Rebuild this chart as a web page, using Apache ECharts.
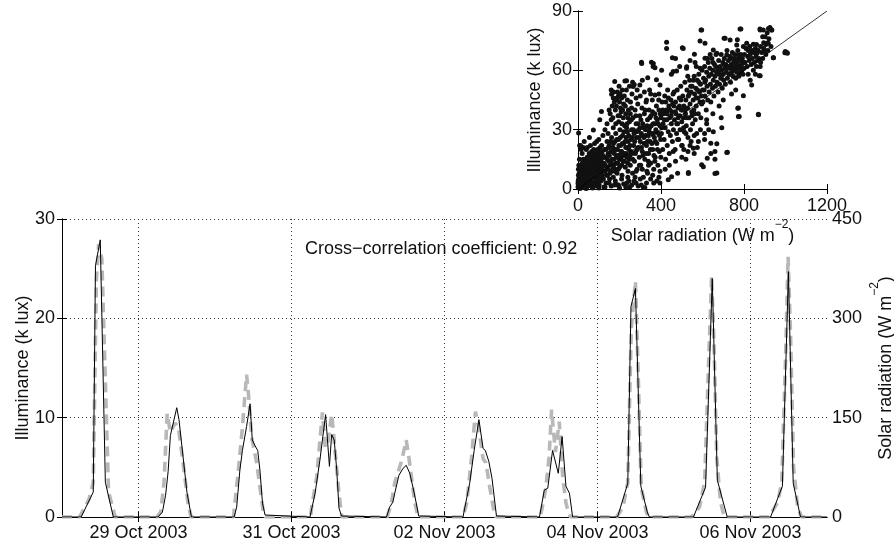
<!DOCTYPE html>
<html><head><meta charset="utf-8">
<script src="https://cdn.jsdelivr.net/npm/echarts@6/dist/echarts.min.js"></script>
<style>html,body{margin:0;padding:0;background:#fff}#c{width:894px;height:548px}</style>
</head><body><div id="c"></div>
<script>
// ---- data ----
// time in hours since 28 Oct 2003 00:00
const dateTickHours = [24, 72, 120, 168, 216];
const dateTickLabels = ['29 Oct 2003', '31 Oct 2003', '02 Nov 2003', '04 Nov 2003', '06 Nov 2003'];
const illumTicks = [0, 10, 20, 30];
const radTicks = [0, 150, 300, 450];
const insetRadTicks = [0, 400, 800, 1200];
const insetIllumTicks = [0, 30, 60, 90];

// Illuminance (k lux), black line
const illumTime = [0,
  6.0, 9.8, 10.5, 12.0, 13.6, 16.1,
  30.1, 31.5, 32.5, 33.3, 34.0, 36.0, 36.7, 39.2, 40.6,
  54.0, 54.8, 55.8, 56.6, 57.9, 59.0, 59.7, 60.6, 61.4, 62.1, 62.9, 63.7, 64.2,
  77.8, 79.4, 80.9, 82.7, 83.9, 84.6, 85.4, 86.2, 86.9, 87.7, 88.2,
  101.8, 102.8, 103.8, 104.4, 105.7, 107.0, 108.0, 109.1, 110.1, 111.2, 111.9, 112.3,
  125.8, 127.9, 129.3, 130.8, 132.1, 132.8, 133.9, 134.9, 136.3, 136.6,
  149.8, 151.3, 152.4, 153.9, 155.7, 156.9, 158.1, 159.2, 160.2,
  174.3, 177.5, 178.5, 179.9, 181.6, 183.7, 184.3,
  198.1, 201.9, 204.0, 205.6, 208.7,
  222.3, 226.0, 227.9, 229.4, 231.7,
  240];
const illumValue = [0,
  0, 2.5, 25.3, 27.9, 3.5, 0,
  0, 0.5, 2.2, 4.6, 8.2, 11.0, 9.8, 2.5, 0,
  0, 1.0, 4.7, 6.7, 9.1, 11.4, 7.75, 7.15, 6.7, 4.7, 1.4, 0.2, 0,
  0, 2.4, 5.7, 10.3, 5.1, 8.3, 7.75, 4.7, 0.9, 0.1, 0,
  0, 1.0, 1.5, 2.4, 4.2, 4.9, 5.2, 4.4, 3.0, 1.3, 0.1, 0,
  0, 3.4, 6.7, 9.8, 6.9, 6.7, 5.6, 3.9, 0.1, 0,
  0, 2.7, 2.9, 6.7, 4.4, 8.1, 3.1, 2.4, 0,
  0, 3.4, 21.2, 23.0, 3.1, 0.4, 0,
  0, 3.0, 24.0, 3.7, 0,
  0, 3.1, 24.7, 3.4, 0,
  0];

// Solar radiation (W m-2), grey dashed line
const radTime = [0,
  5.5, 8.5, 9.8, 10.8, 11.5, 12.5, 14.6, 16.7,
  29.8, 31.0, 32.0, 33.0, 34.0, 35.5, 36.5, 38.0, 39.5, 40.5,
  53.8, 54.3, 55.3, 56.6, 57.9, 58.5, 59.5, 61.0, 62.1, 63.2, 63.8,
  78.0, 78.3, 79.9, 81.7, 82.6, 83.5, 84.6, 85.3, 86.9, 87.8,
  102.0, 103.3, 104.4, 106.5, 108.0, 109.0, 110.6, 111.7,
  125.8, 127.0, 128.5, 129.7, 130.5, 132.1, 133.0, 134.2, 135.5, 136.2,
  150.0, 151.0, 151.8, 152.8, 153.6, 154.8, 156.0, 157.1, 158.1, 159.0, 159.6,
  174.0, 176.0, 177.5, 178.6, 179.9, 180.8, 181.7, 183.3, 184.0,
  197.5, 200.0, 201.6, 202.8, 203.8, 204.6, 205.4, 206.6, 207.8,
  221.8, 224.5, 225.8, 227.0, 227.8, 228.6, 229.5, 230.8, 232.0,
  240];
const radValue = [0,
  0, 27, 52, 360, 412, 390, 38, 0,
  0, 8, 52, 156, 128, 142, 135, 82, 22, 0,
  0, 24, 69, 135, 215, 186, 120, 84, 45, 6, 0,
  0, 14, 60, 158, 105, 115, 155, 120, 35, 0,
  0, 20, 52, 84, 116, 84, 24, 0,
  0, 22, 90, 159, 142, 88, 82, 45, 9, 0,
  0, 22, 45, 90, 162, 98, 144, 60, 21, 5, 0,
  0, 15, 52, 285, 356, 210, 45, 8, 0,
  0, 15, 52, 225, 364, 255, 90, 22, 0,
  0, 22, 52, 240, 393, 270, 75, 15, 0,
  0];

// inset scatter: [solar radiation (W m-2), illuminance (k lux)]
const scatterPoints = [
[2,0.5],[5,1],[8,2],[10,0.3],[12,3],[15,1.5],[18,4],[20,0.8],[22,2.5],[25,6],[28,1],[30,3.5],[33,5],[35,0.5],[38,8],[40,2],[42,4.5],[45,7],[48,1.5],[50,3],[52,10],[55,5.5],[58,2],[60,8],[62,4],[65,12],[68,1],[70,6],[72,9],[75,3],[78,11],[80,7],[82,1.5],[85,5],[88,13],[90,8.5],[92,3],[95,10],[98,6],[100,14],[102,2],[105,8],[108,11.5],[110,4],[112,15],[115,7],[118,9.5],[120,12],
[3,5],[6,8],[4,12],[7,15],[2,10],[10,7],[14,11],[16,9],[20,13],[24,10],[26,15],[30,12],[32,9],[36,14],[40,11],[44,16],[46,13],[50,15],[54,18],[56,12],[60,16],[64,14],[66,19],[70,17],[74,15],[76,20],[80,13],[84,18],[86,16],[90,14],[94,20],[96,17],[100,19],[104,16],[106,21],[110,18],[114,22],[116,19],[120,17],
[3,28.3],[8,22],[12,22],[25,21],[45,21],[60,22],[74,29.8],[30,24],[55,26],[20,18],[15,20],[40,20],[0,1],[1,2.5],[1,4],[2,7],[0.5,3],
[40,0.3],[70,0.5],[100,0.5],[130,1],[160,1.5],[190,2],[220,2.5],[259,2.0],[315,0.7],[322,0.8],[250,1],[280,3],[200,0.5],
[5,3],[9,5],[13,7],[17,2],[21,5],[27,8],[31,1],[35,6],[37,11],[43,9],[47,3],[53,7],[57,10],[63,6],[67,9],[71,12],[73,3],[77,7],[83,10],[87,4],[91,11],[93,6],[97,13],[99,9],[103,5],[107,14],[109,7],[113,11],[117,13],[119,5],
[122,5],[125,13],[128,20],[130,9],[132,16],[135,3],[138,11],[140,24],[142,7],[145,18],[148,14],[150,22],[152,5],[155,12],[158,19],[160,9],[162,26],[165,15],[168,21],[170,6],[172,12],[175,18],[178,24],[180,10],[182,28],[185,16],[188,8],[190,20],[192,13],[195,25],[198,17],[200,11],[202,30],[205,22],[208,15],[210,19],[212,7],[215,27],[218,14],[220,23],[222,18],[225,32],[228,11],[230,21],[232,26],[235,16],[238,29],[240,13],[242,24],[245,20],[248,34],[250,17],
[124,9],[127,16],[131,12],[134,20],[137,7],[141,15],[144,10],[147,21],[151,17],[154,8],[157,24],[161,13],[164,19],[167,10],[171,23],[174,15],[177,9],[181,20],[184,13],[187,25],[191,17],[194,10],[197,22],[201,15],[204,26],[207,19],[211,12],[214,23],[217,17],[221,29],[224,14],[227,24],[231,18],[234,31],[237,21],[241,9],[244,27],[247,15],[251,22],[254,19],[257,35],[261,26],[264,15],[267,30],[273,24],[276,18],[279,37],[283,29],[286,20],[289,33],[293,26],[296,12],[299,31],[303,35],[306,21],[309,27],[313,17],[316,31],[319,23],[323,40],[326,27],[329,18],[333,32],[336,24],[339,14],[343,29],[346,36],[349,20],[353,32],[356,23],[359,39],[363,28],[366,17],[369,33],[373,24],[376,36],[379,29],[383,20],[386,33],[389,45],[393,27],[396,38],[399,16],
[105,35],[113,39.2],[162,47.9],[170,46],[175,44],[185,42],[185,45.1],[190,49],[195,47],[200,44],[205,41],[210,46],[215,40],[220,43],[226,54.6],[230,38],[240,36],[160,50.1],[177,54.3],[150,40],[140,33],[130,30],[120,27],[100,25],[90,24],[80,23],[160,35],[200,37],[170,31],[145,28],
[155,38],[165,42],[172,49],[180,40],[188,46],[193,37],[198,52],[203,48],[208,39],[213,50],[218,36],[223,47],[228,42],[233,50],[238,45],[243,40],[248,52],[253,44],[258,41],[263,54],[168,36],[182,33],[196,34],[212,33],[236,33],[252,38],
[150,3],[180,4],[210,5],[240,6],[235,3],[195,2],[125,1],[175,2],[230,1],[290,1.5],[245,4],[275,6],[305,2],[335,8],[365,3],[310,10],[340,12],[370,14],[395,3],
[252,12],[255,25],[258,30],[260,18],[263,8],[265,36],[268,22],[270,28],[272,14],[275,40],[278,19],[280,33],[282,26],[285,10],[288,43],[290,21],[292,30],[295,16],[298,37],[300,24],[302,12],[305,28],[308,41],[310,19],[312,33],[315,6],[318,26],[320,38],[322,15],[325,30],[328,44],[330,22],[332,9],[335,35],[338,27],[340,18],[342,40],[345,31],[348,24],[350,13],[352,37],[355,28],[358,45],[360,20],[362,33],[365,10],[368,26],[370,38],[372,16],[375,30],[378,42],[380,23],[382,35],[385,12],[388,28],[390,40],[392,19],[395,32],[398,25],[400,36],
[266,51.8],[271,52.9],[234,54.7],[298,52.6],[306,64.1],[307,63.5],[336,56.3],[354,64.1],[362,61.9],[363,63.5],[371,61.3],[371,47.5],[378,55.2],[395,52.6],[403,60.0],[260,48],[280,46],[300,47],[320,49],[345,50],[310,55],[330,45],[350,48],[390,48],[285,50],
[270,4],[300,5],[330,3],[360,7],[390,6],[280,9],[350,5],[380,4],[395,9],
[402,28],[405,44],[408,20],[410,33],[412,38],[415,25],[418,47],[420,31],[422,15],[425,40],[428,35],[430,22],[432,50],[435,29],[438,42],[440,18],[442,36],[445,27],[448,45],[450,33],[452,39],[455,24],[458,48],[460,30],[462,42],[465,35],[468,20],[470,44],[472,38],[475,28],[478,50],[480,33],[482,41],[485,25],[488,46],[490,37],[492,30],[495,52],[498,40],[500,34],[502,22],[505,47],[508,36],[510,42],[512,29],[515,54],[518,38],[520,45],[522,32],[525,50],[528,41],[530,26],[532,47],[535,36],[538,55],[540,43],[542,30],[545,49],[548,39],[550,52],[552,33],[555,45],[558,40],[560,57],[562,48],[565,35],[568,51],[570,42],[572,28],[575,55],[578,46],[580,38],[582,58],[585,49],[588,44],[590,53],[592,36],[595,47],[598,60],[600,50],
[403,31],[409,40],[416,35],[423,44],[429,38],[436,46],[443,40],[449,37],[456,43],[463,49],[469,39],[476,33],[483,36],[489,42],[496,45],[503,40],[509,31],[516,40],[523,36],[529,57],[536,48],[543,52],[549,37],[556,55],[563,38],[569,46],[576,50],[583,54],[589,61],[596,43],
[480,25],[500,22],[520,28],[530,19],[545,24],[560,27],[575,21],[590,30],[610,25],[620,33],
[427,74.2],[435,4.7],[427,71.1],[451,6.2],[455,66.4],[459,59.4],[459,18.9],[470,66],[475,59.7],[503,71.4],[507,71.1],[523,61.1],[524,61.8],[532,8.4],[532,7.9],[556,20.6],[561,68.1],[564,63.9],[588,74.8],[593,80.4],[596,80.4],[596,12.3],[420,10],[440,12],[470,14],[500,16],[520,15],[480,8],[510,20],[540,22],[560,18],[580,24],[450,58],[490,62],[540,65],[570,62],
[602,44],[605,56],[608,50],[610,62],[612,47],[615,55],[618,40],[620,59],[622,52],[625,45],[628,64],[630,57],[632,49],[635,61],[638,53],[640,44],[642,58],[645,66],[648,51],[650,60],[652,55],[655,47],[658,63],[660,57],[662,52],[665,68],[668,59],[670,54],[672,61],[675,49],[678,65],[680,58],[682,53],[685,62],[688,56],[690,68],[692,60],[695,51],[698,64],[700,58],[702,55],[705,66],[708,61],[710,53],[712,63],[715,59],[718,70],[720,56],[722,62],[725,65],[728,58],[730,61],[732,67],[735,54],[738,63],[740,59],[742,66],[745,61],[748,57],[750,64],[752,60],[755,68],[758,62],[760,56],[762,65],[765,59],[768,63],[770,70],[772,61],[775,57],[778,66],[780,62],[782,59],[785,68],[788,63],[790,60],[792,66],[795,58],[798,64],[800,61],
[611,54],[624,66],[637,68],[651,64],[664,62],[677,59],[691,57],[704,63],[717,61],[731,58],[744,69],[757,66],[771,65],[784,65],[797,72],
[612,66.1],[612,73.7],[623,15.5],[604,11.3],[640,23.1],[640,18.0],[652,70.3],[652,29.0],[660,15.1],[660,18.9],[660,7.9],[669,68.6],[669,22.9],[669,8.1],[693,31.0],[704,76.2],[709,76.2],[717,67.8],[717,18.5],[720,18.6],[733,75.4],[765,72.8],[768,75.5],[770,40.8],[773,67.8],[773,40.9],[773,36.7],[777,36.6],[781,80.9],[785,80.9],[797,47.2],[620,35],[650,38],[680,42],[700,45],[740,48],[760,50],[630,30],[610,28],[690,36],
[802,68],[805,64],[810,71],[813,73.7],[815,62],[818,67],[820,70],[825,65],[828,72],[830,68],[835,63],[838,70],[840,66],[845,73.2],[848,69],[850,64],[855,71],[858,67],[860,73],[862,68.6],[865,65],[868,70],[870,37.5],[872,66],[874,57.3],[877,80.9],[878,61.9],[878,57.2],[878,80.4],[880,72],[885,69],[890,77.0],[893,80.4],[895,74],[900,70],[902,77.0],[905,73],[910,73.7],[912,79],[917,73.7],[918,81.2],[920,76],[925,81.6],[930,72],[933,80.4],[934,80.4],[941,66.4],[942,66.4],[999,69.5],[997,68.9],[1007,69.0],[1009,68.6],[837,52.6],[869,37.8],[845,60],[860,62],[855,58],[880,64],[890,66],[895,71],[905,68],[915,70],[820,58],[830,55]
];
const fitLineRad = [0, 1200];
const fitLineIllum = [0, 90];
const correlationText = 'Cross\u2212correlation coefficient: 0.92';

// ---- chart ----
const FONT = '"Liberation Sans", Arial, Helvetica, sans-serif';
const TXT = '#111';
const chart = echarts.init(document.getElementById('c'), null, {renderer: 'canvas'});
const pair = (xs, ys) => xs.map((x, i) => [x, ys[i]]);
const labelFor = v => { const i = dateTickHours.indexOf(v); return i >= 0 ? dateTickLabels[i] : ''; };
const plain = v => String(v);
const supRich = {
  a: {fontSize: 18, fontFamily: FONT, color: TXT, lineHeight: 26, verticalAlign: 'bottom'},
  s: {fontSize: 12, fontFamily: FONT, color: TXT, verticalAlign: 'top', lineHeight: 12}
};
const radName = '{a|Solar radiation (W m}{s|\u22122}{a|)}';
const lbl = (extra) => Object.assign({color: TXT, fontSize: 18, fontFamily: FONT}, extra);
const axLine = {show: true, lineStyle: {color: '#000', width: 1}};
const tickIn = (extra) => Object.assign({show: true, inside: true, length: 5, lineStyle: {color: '#000', width: 1}}, extra);
const dotted = {show: true, lineStyle: {color: '#333', width: 1, type: [1, 3]}};

chart.setOption({
  animation: false,
  backgroundColor: '#fff',
  grid: [
    {left: 62, top: 219, right: 67, bottom: 31, containLabel: false, outerBoundsMode: 'none'},
    {left: 578, top: 11, width: 249, height: 178, containLabel: false, outerBoundsMode: 'none'}
  ],
  xAxis: [
    {type: 'value', gridIndex: 0, min: 0, max: 240, position: 'bottom',
     axisLine: axLine, axisTick: tickIn({customValues: dateTickHours}),
     axisLabel: lbl({customValues: dateTickHours, formatter: labelFor, margin: 7}),
     splitLine: dotted},
    {type: 'value', gridIndex: 0, min: 0, max: 240, position: 'top',
     axisLine: axLine, axisTick: tickIn({customValues: dateTickHours}),
     axisLabel: {show: false}, splitLine: {show: false}},
    {type: 'value', gridIndex: 1, min: insetRadTicks[0], max: insetRadTicks[3], interval: 400, position: 'bottom',
     axisLine: axLine, axisTick: tickIn({}),
     axisLabel: lbl({margin: 8, showMinLabel: true, showMaxLabel: true, formatter: plain}),
     splitLine: {show: false},
     name: radName, nameLocation: 'middle', nameGap: 30, nameMoveOverlap: false, nameTextStyle: {rich: supRich}},
    {type: 'value', gridIndex: 1, min: insetRadTicks[0], max: insetRadTicks[3], interval: 400, position: 'top',
     axisLine: axLine, axisTick: tickIn({}), axisLabel: {show: false}, splitLine: {show: false}}
  ],
  yAxis: [
    {type: 'value', gridIndex: 0, min: illumTicks[0], max: illumTicks[3], interval: 10, position: 'left',
     axisLine: axLine, axisTick: tickIn({}),
     axisLabel: lbl({margin: 7, formatter: plain}), splitLine: dotted,
     name: 'Illuminance (k lux)', nameLocation: 'middle', nameGap: 30, nameRotate: 90, nameMoveOverlap: false,
     nameTextStyle: {fontSize: 18, fontFamily: FONT, color: TXT}},
    {type: 'value', gridIndex: 0, min: radTicks[0], max: radTicks[3], interval: 150, position: 'right',
     axisLine: axLine, axisTick: tickIn({}),
     axisLabel: lbl({margin: 5, formatter: plain}), splitLine: {show: false},
     name: radName, nameLocation: 'middle', nameGap: 42, nameRotate: 90, nameMoveOverlap: false,
     nameTextStyle: {rich: supRich}},
    {type: 'value', gridIndex: 1, min: insetIllumTicks[0], max: insetIllumTicks[3], interval: 30, position: 'left',
     axisLine: axLine, axisTick: tickIn({}),
     axisLabel: lbl({margin: 6, formatter: plain}), splitLine: {show: false},
     name: 'Illuminance (k lux)', nameLocation: 'middle', nameGap: 34, nameRotate: 90, nameMoveOverlap: false,
     nameTextStyle: {fontSize: 18, fontFamily: FONT, color: TXT}},
    {type: 'value', gridIndex: 1, min: insetIllumTicks[0], max: insetIllumTicks[3], interval: 30, position: 'right',
     axisLine: axLine, axisTick: tickIn({}), axisLabel: {show: false}, splitLine: {show: false}}
  ],
  series: [
    {type: 'line', xAxisIndex: 0, yAxisIndex: 1, data: pair(radTime, radValue),
     showSymbol: false, symbol: 'none', z: 3,
     lineStyle: {color: '#b8b8b8', width: 3.6, type: [10, 6], cap: 'butt'}},
    {type: 'line', xAxisIndex: 0, yAxisIndex: 0, data: pair(illumTime, illumValue),
     showSymbol: false, symbol: 'none', z: 4,
     lineStyle: {color: '#000', width: 1}},
    {type: 'scatter', xAxisIndex: 2, yAxisIndex: 2, data: scatterPoints,
     symbol: 'circle', symbolSize: 5, itemStyle: {color: '#111', opacity: 1}, z: 3},
    {type: 'line', xAxisIndex: 2, yAxisIndex: 2, data: pair(fitLineRad, fitLineIllum),
     showSymbol: false, symbol: 'none', z: 4, lineStyle: {color: '#000', width: 0.8}}
  ],
  graphic: [
    {type: 'text', left: 305, top: 240, z: 10,
     style: {text: correlationText, fontSize: 18, fontFamily: FONT, fill: TXT}}
  ]
});
</script>
</body></html>
